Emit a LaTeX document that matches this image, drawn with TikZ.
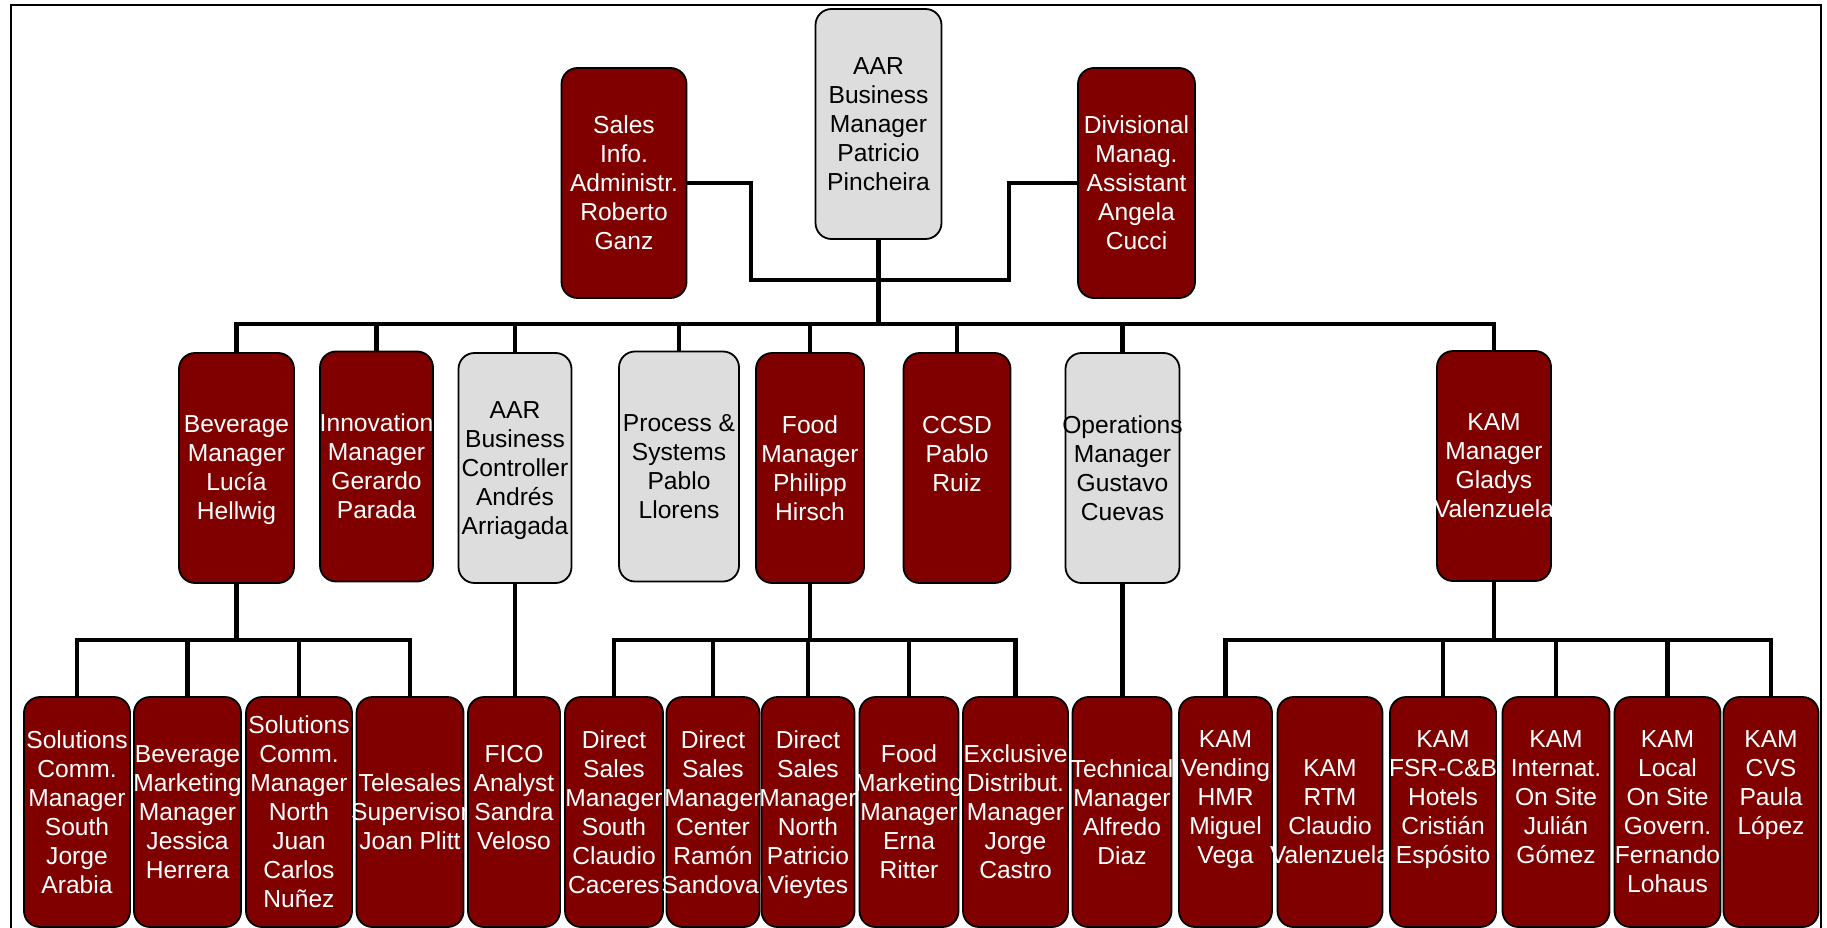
\documentclass[tikz,border=0pt]{standalone}
\usepackage{fontspec}
\setmainfont{Liberation Sans}
\definecolor{aarred}{HTML}{800000}
\definecolor{aargrey}{HTML}{DDDDDD}
\newcommand{\spill}[1]{\makebox[0pt]{#1}}

\begin{document}
\begin{tikzpicture}[x=1pt, y=-1pt, line width=1.8pt,
  orgbox/.style={draw=black, rounded corners=16pt, inner sep=0pt,
    minimum height=230pt, align=center, text depth=0pt,
    font=\fontsize{24.6}{29}\selectfont},
  redbox/.style={orgbox, fill=aarred, text=white},
  greybox/.style={orgbox, fill=aargrey, text=black},
  link/.style={line width=4.5pt}]
  \useasboundingbox (0,0) rectangle (1827,928);
  \clip (0,0) rectangle (1827,928);
  % frame
  \draw[line width=2pt] (10.5,5.5) rectangle (1821,950);

  % top row
  \node[greybox, minimum width=126pt] (boss) at (878.5,124) {AAR\\Business\\Manager\\Patricio\\Pincheira};
  \node[redbox, minimum width=125pt] (salesinfo) at (624,183) {Sales\\Info.\\Administr.\\Roberto\\Ganz};
  \node[redbox, minimum width=117pt] (divassist) at (1136.5,183) {Divisional\\Manag.\\Assistant\\Angela\\Cucci};

  % managers
  \node[redbox, minimum width=115pt] (bev) at (236.5,468) {Beverage\\Manager\\Lucía\\Hellwig};
  \node[redbox, minimum width=113pt] (innov) at (376.5,466.5) {\spill{Innovation}\\Manager\\Gerardo\\Parada};
  \node[greybox, minimum width=113pt] (ctrl) at (515,468) {AAR\\Business\\Controller\\Andrés\\Arriagada};
  \node[greybox, minimum width=120pt] (proc) at (679,466.5) {Process \&\\Systems\\Pablo\\Llorens};
  \node[redbox, minimum width=108pt] (food) at (810,468) {Food\\Manager\\Philipp\\Hirsch};
  \node[redbox, minimum width=107pt] (ccsd) at (957,468) {CCSD\\Pablo\\Ruiz\\\mbox{}};
  \node[greybox, minimum width=114pt] (ops) at (1122.5,468) {\spill{Operations}\\Manager\\Gustavo\\Cuevas};
  \node[redbox, minimum width=114pt] (kam) at (1494,466) {KAM\\Manager\\Gladys\\\spill{Valenzuela}};

  % staff
  \node[redbox, minimum width=106pt] (scsouth) at (77,812) {Solutions\\Comm.\\Manager\\South\\Jorge\\Arabia};
  \node[redbox, minimum width=107pt] (bevmkt) at (187.5,812) {Beverage\\\spill{Marketing}\\Manager\\Jessica\\Herrera};
  \node[redbox, minimum width=106pt] (scnorth) at (299,812) {Solutions\\Comm.\\Manager\\North\\Juan\\Carlos\\Nuñez};
  \node[redbox, minimum width=107pt] (tele) at (410,812) {Telesales\\\spill{Supervisor}\\Joan Plitt};
  \node[redbox, minimum width=92pt] (fico) at (514,812) {FICO\\Analyst\\Sandra\\Veloso\\\mbox{}};
  \node[redbox, minimum width=98pt] (dssouth) at (614,812) {Direct\\Sales\\\spill{Manager}\\South\\Claudio\\Caceres};
  \node[redbox, minimum width=93pt] (dscenter) at (713,812) {Direct\\Sales\\\spill{Manager}\\Center\\Ramón\\\spill{Sandoval}};
  \node[redbox, minimum width=93pt] (dsnorth) at (808,812) {Direct\\Sales\\\spill{Manager}\\North\\Patricio\\Vieytes};
  \node[redbox, minimum width=99pt] (foodmkt) at (909,812) {Food\\\spill{Marketing}\\Manager\\Erna\\Ritter};
  \node[redbox, minimum width=105pt] (exdist) at (1015.5,812) {\spill{Exclusive}\\Distribut.\\Manager\\Jorge\\Castro};
  \node[redbox, minimum width=99pt] (tech) at (1122,812) {\spill{Technical}\\Manager\\Alfredo\\Diaz};
  \node[redbox, minimum width=93pt] (kamvend) at (1225.5,812) {KAM\\Vending\\HMR\\Miguel\\Vega\\\mbox{}};
  \node[redbox, minimum width=105pt] (kamrtm) at (1330,812) {KAM\\RTM\\Claudio\\\spill{Valenzuela}};
  \node[redbox, minimum width=106pt] (kamfsr) at (1443,812) {KAM\\\spill{FSR-C\&B}\\Hotels\\Cristián\\Espósito\\\mbox{}};
  \node[redbox, minimum width=107pt] (kamint) at (1556,812) {KAM\\Internat.\\On Site\\Julián\\Gómez\\\mbox{}};
  \node[redbox, minimum width=106pt] (kamlocal) at (1667.5,812) {KAM\\Local\\On Site\\Govern.\\\spill{Fernando}\\Lohaus};
  \node[redbox, minimum width=95pt] (kamcvs) at (1771,812) {KAM\\CVS\\Paula\\López\\\mbox{}\\\mbox{}};

  % lines to the top row
  \coordinate (stemL) at (751,280);
  \coordinate (stemR) at (1009,280);
  \coordinate (busA) at (0,324);
  \coordinate (busB) at (0,640);
  \draw[link] (salesinfo.east) -| (stemL) -- (stemR) |- (divassist.west);
  \draw[link] (boss.south) -- (boss.south |- busA);

  % lines to the managers
  \draw[link] (bev.north) |- (kam.north |- busA) -- (kam.north);
  \foreach \n in {innov,ctrl,proc,food,ccsd,ops}
    \draw[link] (\n.north |- busA) -- (\n.north);

  % lines to the staff
  \draw[link] (bev.south) -- (bev.south |- busB);
  \draw[link] (scsouth.north) |- (tele.north |- busB) -- (tele.north);
  \foreach \n in {bevmkt,scnorth}
    \draw[link] (\n.north |- busB) -- (\n.north);
  \draw[link] (ctrl.south) -- (ctrl.south |- fico.north);
  \draw[link] (food.south) -- (food.south |- busB);
  \draw[link] (dssouth.north) |- (exdist.north |- busB) -- (exdist.north);
  \foreach \n in {dscenter,dsnorth,foodmkt}
    \draw[link] (\n.north |- busB) -- (\n.north);
  \draw[link] (ops.south) -- (ops.south |- tech.north);
  \draw[link] (kam.south) -- (kam.south |- busB);
  \draw[link] (kamvend.north) |- (kamcvs.north |- busB) -- (kamcvs.north);
  \foreach \n in {kamfsr,kamint,kamlocal}
    \draw[link] (\n.north |- busB) -- (\n.north);
\end{tikzpicture}
\end{document}
